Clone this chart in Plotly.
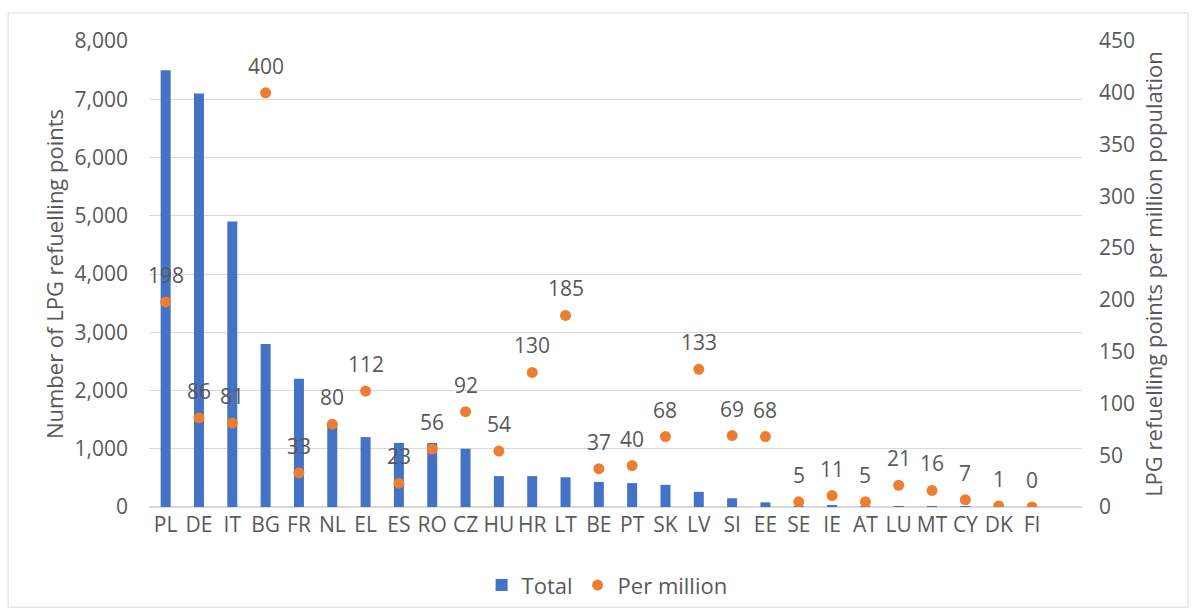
import plotly.graph_objects as go

COUNTRIES = ['PL', 'DE', 'IT', 'BG', 'FR', 'NL', 'EL', 'ES', 'RO', 'CZ', 'HU', 'HR', 'LT', 'BE',
             'PT', 'SK', 'LV', 'SI', 'EE', 'SE', 'IE', 'AT', 'LU', 'MT', 'CY', 'DK', 'FI']
TOTAL = [7500, 7100, 4900, 2800, 2200, 1400, 1200, 1100, 1100, 1000, 530, 530, 510, 430,
         410, 380, 260, 150, 80, 10, 30, 4, 3, 2, 4, 2, 2]
PER_MILLION = [198, 86, 81, 400, 33, 80, 112, 23, 56, 92, 54, 130, 185, 37,
               40, 68, 133, 69, 68, 5, 11, 5, 21, 16, 7, 1, 0]

FONT = "Open Sans"
GREY = "#595959"

fig = go.Figure()
fig.add_trace(go.Bar(name='Total', x=COUNTRIES, y=TOTAL, width=0.3,
                     marker=dict(color='#4472C4', line=dict(width=0))))
fig.add_trace(go.Scatter(name='Per million', x=COUNTRIES, y=PER_MILLION, yaxis='y2',
                         mode='markers', marker=dict(color='#ED7D31', size=11)))

# data labels above the dots
for c, v in zip(COUNTRIES, PER_MILLION):
    fig.add_annotation(x=c, y=v, yref='y2', text=str(v), showarrow=False, yshift=27,
                       font=dict(family=FONT, size=21, color=GREY))

fig.update_layout(
    autosize=True,
    # fixed margins, the legend must not push the plot up
    margin=dict(l=149, r=110, t=41, b=105, autoexpand=False),
    paper_bgcolor='white', plot_bgcolor='white',
    font=dict(family=FONT, size=21, color=GREY),
    showlegend=True,
    legend=dict(orientation='h', x=0.491, xanchor='center', y=-0.168, yanchor='middle',
                font=dict(family=FONT, size=22, color=GREY), itemwidth=30),
    xaxis=dict(range=[-0.5, 27.5], showgrid=False, showline=False, ticks='',
               tickfont=dict(size=21), ticklabelstandoff=3),
    yaxis=dict(title=dict(text='Number of LPG refuelling points', font=dict(size=22), standoff=4),
               range=[0, 8000], dtick=1000, tickformat=',', gridcolor='#D9D9D9',
               zeroline=True, zerolinecolor='#D9D9D9', showline=False, ticklabelstandoff=20),
    yaxis2=dict(title=dict(text='LPG refuelling points per million population', font=dict(size=22), standoff=12),
                overlaying='y', side='right', range=[0, 450], dtick=50, showgrid=False,
                zeroline=False, showline=False, ticklabelstandoff=16),
    shapes=[dict(type='rect', xref='paper', yref='paper', x0=-0.151, x1=1.1136, y0=-0.215, y1=1.06,
                 line=dict(color='#D9D9D9', width=1), layer='below')],
)

# let the figure fill the window exactly
fill = """
var gd = document.getElementById('{plot_id}');
document.documentElement.style.height = '100%';
document.documentElement.style.overflow = 'hidden';
document.body.style.height = '100%';
document.body.style.margin = '0';
document.body.style.overflow = 'hidden';
gd.parentElement.style.height = '100%';
Plotly.Plots.resize(gd);
"""
fig.write_html("out.html", config={'displayModeBar': False, 'responsive': True},
               default_width='100%', default_height='100%', post_script=fill)
